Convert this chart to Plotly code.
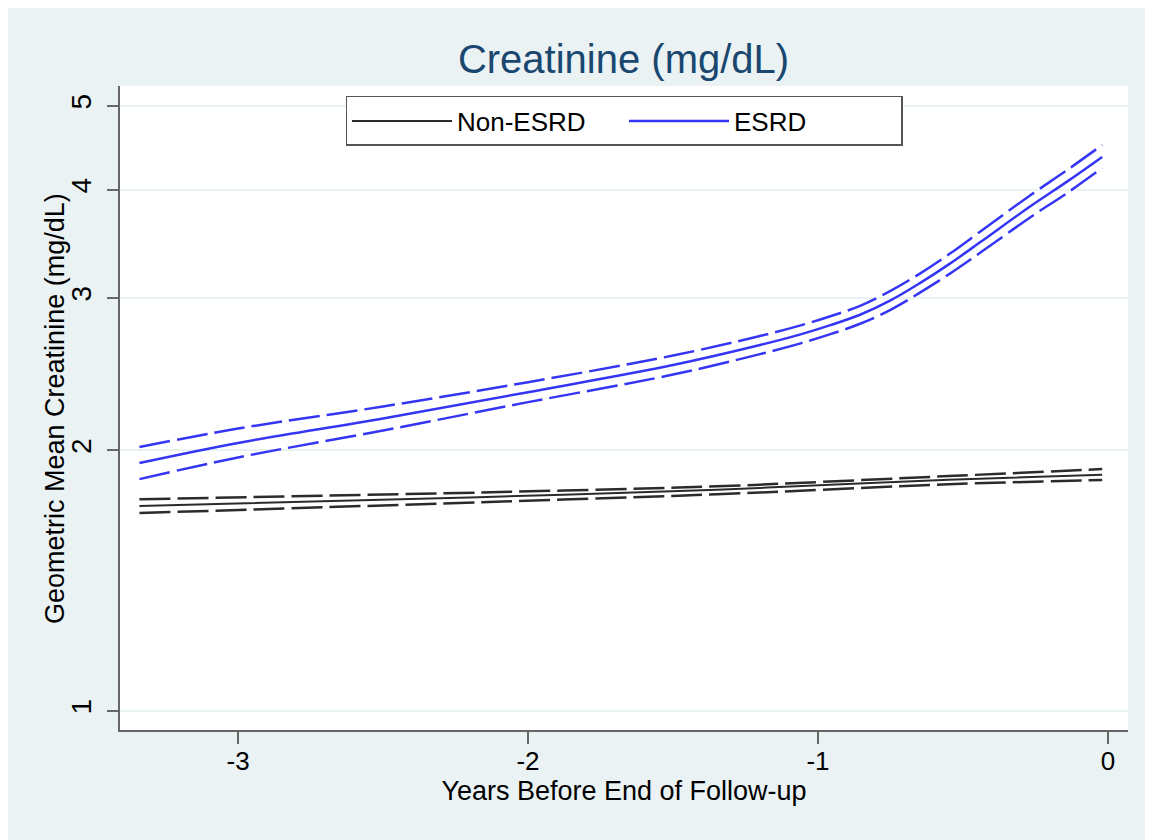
import plotly.graph_objects as go

# ---- data ----
esrd_years = [-3.34, -3.0, -2.5, -2.0, -1.5, -1.2, -1.06, -0.96, -0.855, -0.75, -0.65,
              -0.545, -0.44, -0.27, -0.14, -0.02]
esrd_mean = [1.934, 2.04, 2.177, 2.335, 2.51, 2.647, 2.723, 2.789, 2.869, 2.981, 3.119,
             3.287, 3.481, 3.824, 4.091, 4.366]
esrd_upper = [2.018, 2.120, 2.248, 2.398, 2.574, 2.711, 2.789, 2.856, 2.938, 3.057, 3.199,
              3.376, 3.580, 3.938, 4.218, 4.507]
esrd_lower = [1.853, 1.963, 2.109, 2.274, 2.447, 2.584, 2.659, 2.723, 2.801, 2.907, 3.041,
              3.201, 3.385, 3.714, 3.968, 4.240]

non_years = [-3.34, -2.17, -1.48, -1.2, -0.55, -0.02]
non_mean = [1.725, 1.766, 1.795, 1.810, 1.850, 1.875]
non_upper = [1.756, 1.788, 1.812, 1.826, 1.868, 1.903]
non_lower = [1.693, 1.742, 1.773, 1.788, 1.828, 1.849]

x_ticks = [-3, -2, -1, 0]
y_ticks = [1, 2, 3, 4, 5]

BLUE = "#3535f5"
BLACK = "#2b2b2b"
BG = "#EAF2F3"
FONT = "Liberation Sans, Arial, Helvetica, sans-serif"
DASH = "31px,7px"

fig = go.Figure()

for yy in (non_upper, non_lower):
    fig.add_trace(go.Scatter(x=non_years, y=yy, mode="lines",
                             line=dict(color=BLACK, width=2.5, dash=DASH, shape="spline", smoothing=0.8),
                             showlegend=False, hoverinfo="skip"))
fig.add_trace(go.Scatter(x=non_years, y=non_mean, mode="lines", name="Non-ESRD",
                         line=dict(color=BLACK, width=2, shape="spline", smoothing=0.8)))

for yy in (esrd_upper, esrd_lower):
    fig.add_trace(go.Scatter(x=esrd_years, y=yy, mode="lines",
                             line=dict(color=BLUE, width=2.5, dash=DASH, shape="spline", smoothing=1),
                             showlegend=False, hoverinfo="skip"))
fig.add_trace(go.Scatter(x=esrd_years, y=esrd_mean, mode="lines", name="ESRD",
                         line=dict(color=BLUE, width=2.5, shape="spline", smoothing=1)))

fig.update_layout(
    width=1153, height=840,
    margin=dict(l=112, r=33, t=78, b=118, autoexpand=False),
    paper_bgcolor=BG, plot_bgcolor="white",
    font=dict(family=FONT, color="black", size=26),
    title=dict(text="Creatinine (mg/dL)", x=(615.5 / 1153), xanchor="center",
               y=1 - 51 / 840, yanchor="middle", yref="container",
               font=dict(size=40, color="#1a476f", family=FONT)),
    legend=dict(orientation="h", x=0.5, xanchor="center", y=0.9845, yanchor="top",
                bgcolor="white", bordercolor="#555555", borderwidth=1.5,
                font=dict(size=26, color="black", family=FONT),
                entrywidth=162, entrywidthmode="pixels", itemwidth=100),
    showlegend=True,
    annotations=[dict(text="Geometric Mean Creatinine (mg/dL)", textangle=-90,
                      xref="paper", yref="paper", x=-0.0645, y=0.5,
                      xanchor="center", yanchor="middle", showarrow=False,
                      font=dict(size=27, color="black", family=FONT))],
)

fig.update_xaxes(
    range=[-3.407, 0.069], tickvals=x_ticks, ticktext=[str(v) for v in x_ticks],
    showgrid=False, zeroline=False, showline=True, linecolor="#666666", linewidth=2,
    ticks="outside", ticklen=12, tickwidth=2, tickcolor="#666666",
    tickfont=dict(size=26, color="black"), ticklabelstandoff=-5,
    title=dict(text="Years Before End of Follow-up", font=dict(size=27, color="black"), standoff=2),
)
fig.update_yaxes(
    type="log", range=[-0.02195, 0.722], tickvals=y_ticks, ticktext=[str(v) for v in y_ticks],
    showgrid=True, gridcolor=BG, gridwidth=1.5, zeroline=False,
    showline=True, linecolor="#666666", linewidth=2,
    ticks="outside", ticklen=11, tickwidth=2, tickcolor="#666666",
    tickangle=-90, tickfont=dict(size=28, color="black"), ticklabelstandoff=5,
)

fig.write_html("out.html")
